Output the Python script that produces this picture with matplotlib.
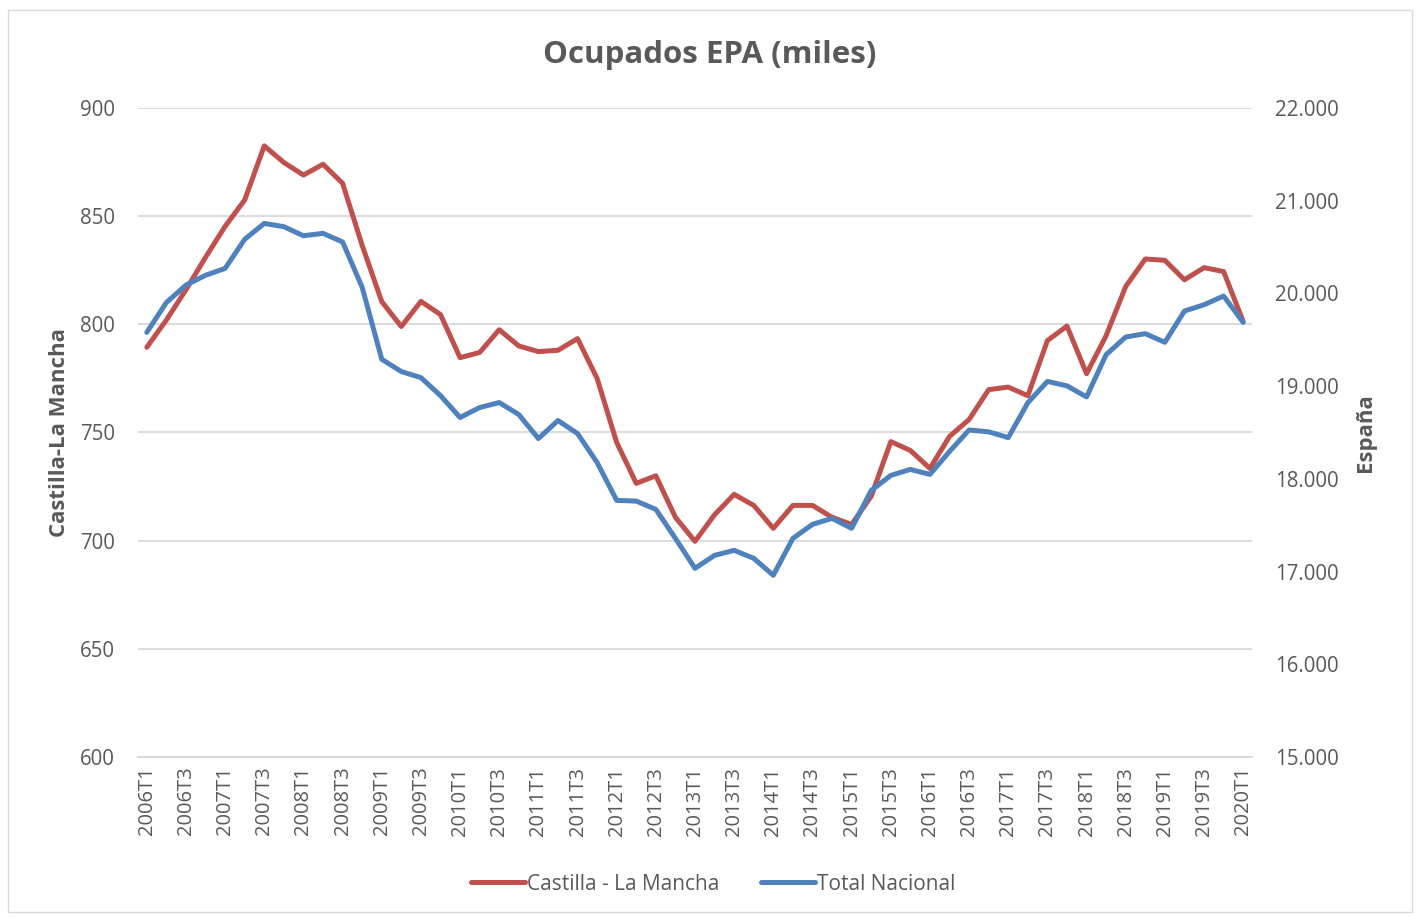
import matplotlib
matplotlib.use("Agg")
import matplotlib.pyplot as plt
from matplotlib.ticker import FuncFormatter
from matplotlib.patches import Rectangle

plt.rcParams['font.family'] = ['Open Sans', 'DejaVu Sans']

years = list(range(2006, 2021))
quarters = [f"{y}T{q}" for y in years for q in (1, 2, 3, 4)][:57]

clm = [789.4, 802, 816, 831, 845.3, 857.5, 882.5, 874.8, 869, 874, 865.2,
       836.5, 810.5, 799, 810.6, 804.5, 784.6, 787, 797.5, 790, 787.4, 788,
       793.4, 775, 745.4, 726.5, 730, 710.8, 699.7, 712, 721.4, 716.3, 705.7,
       716.3, 716.3, 710.8, 707.5, 720.5, 745.8, 741.7, 733.4, 748.2, 756,
       769.8, 771, 767, 792.5, 799.2, 777.2, 794.8, 817.5, 830.2, 829.6,
       820.6, 826.2, 824.4, 801.3]

nacional = [19580, 19902, 20090, 20196, 20270, 20584, 20755, 20720, 20622,
            20648, 20555, 20066, 19290, 19157, 19092, 18898, 18662, 18769,
            18823, 18694, 18435, 18629, 18489, 18177, 17768, 17760, 17671,
            17358, 17035, 17175, 17229, 17143, 16960, 17358, 17509, 17574,
            17466, 17875, 18037, 18102, 18048, 18295, 18527, 18507, 18445,
            18821, 19051, 19003, 18884, 19340, 19530, 19566, 19473, 19810,
            19878, 19972, 19688]

left_ticks = [600, 650, 700, 750, 800, 850, 900]
right_ticks = [15000, 16000, 17000, 18000, 19000, 20000, 21000, 22000]

RED = '#C0504D'
BLUE = '#4F81BD'
TXT = '#595959'
GRID = '#D9D9D9'

fig = plt.figure(figsize=(14.22, 9.18), dpi=100)
fig.patches.append(Rectangle((8 / 1422, 1 - 912 / 918), 1404 / 1422, 902 / 918,
                             transform=fig.transFigure, fill=False,
                             edgecolor='#D9D9D9', linewidth=1.0))
ax = fig.add_axes([138 / 1422, 1 - 757 / 918, (1252 - 138) / 1422, (757 - 108) / 918])
ax2 = ax.twinx()

x = list(range(len(quarters)))
l1, = ax.plot(x, clm, color=RED, linewidth=3.6, solid_capstyle='round',
              solid_joinstyle='round', label='Castilla - La Mancha', zorder=3)
l2, = ax2.plot(x, nacional, color=BLUE, linewidth=3.6, solid_capstyle='round',
               solid_joinstyle='round', label='Total Nacional', zorder=3)

ax.set_ylim(600, 900)
ax2.set_ylim(15000, 22000)
ax.set_xlim(-0.45, len(quarters) - 0.55)
ax.set_yticks(left_ticks)
ax2.set_yticks(right_ticks)
ax2.yaxis.set_major_formatter(FuncFormatter(lambda v, p: f"{int(v):,}".replace(',', '.')))

ax.set_xticks(x[::2])
ax.set_xticklabels(quarters[::2], rotation=90, fontsize=14.5, color=TXT)
ax.grid(axis='y', color=GRID, linewidth=1.3)
ax.set_axisbelow(True)
for a in (ax, ax2):
    for s in a.spines.values():
        s.set_visible(False)
    a.tick_params(axis='y', length=0, labelsize=14.8, labelcolor=TXT)
ax.spines['bottom'].set_visible(True)
ax.spines['bottom'].set_color(GRID)
ax.spines['bottom'].set_linewidth(1.3)
ax.tick_params(axis='x', length=0, pad=7)
ax.tick_params(axis='y', pad=16.5)
ax2.tick_params(axis='y', pad=16.5)

ax.set_ylabel('Castilla-La Mancha', fontsize=16, fontweight='bold', color=TXT, labelpad=7)
ax2.set_ylabel('España', fontsize=16, fontweight='bold', color=TXT, labelpad=12)

fig.text(710 / 1422, 1 - 55 / 918, 'Ocupados EPA (miles)', ha='center', va='center',
         fontsize=22.5, fontweight='bold', color=TXT)

fig.legend(handles=[l1, l2], loc='center', bbox_to_anchor=(713 / 1422, 1 - 884 / 918),
           ncol=2, frameon=False, fontsize=15, labelcolor=TXT, handlelength=2.6,
           handletextpad=0.1, columnspacing=2.0)

fig.savefig('out.png', dpi=100, facecolor='white')
